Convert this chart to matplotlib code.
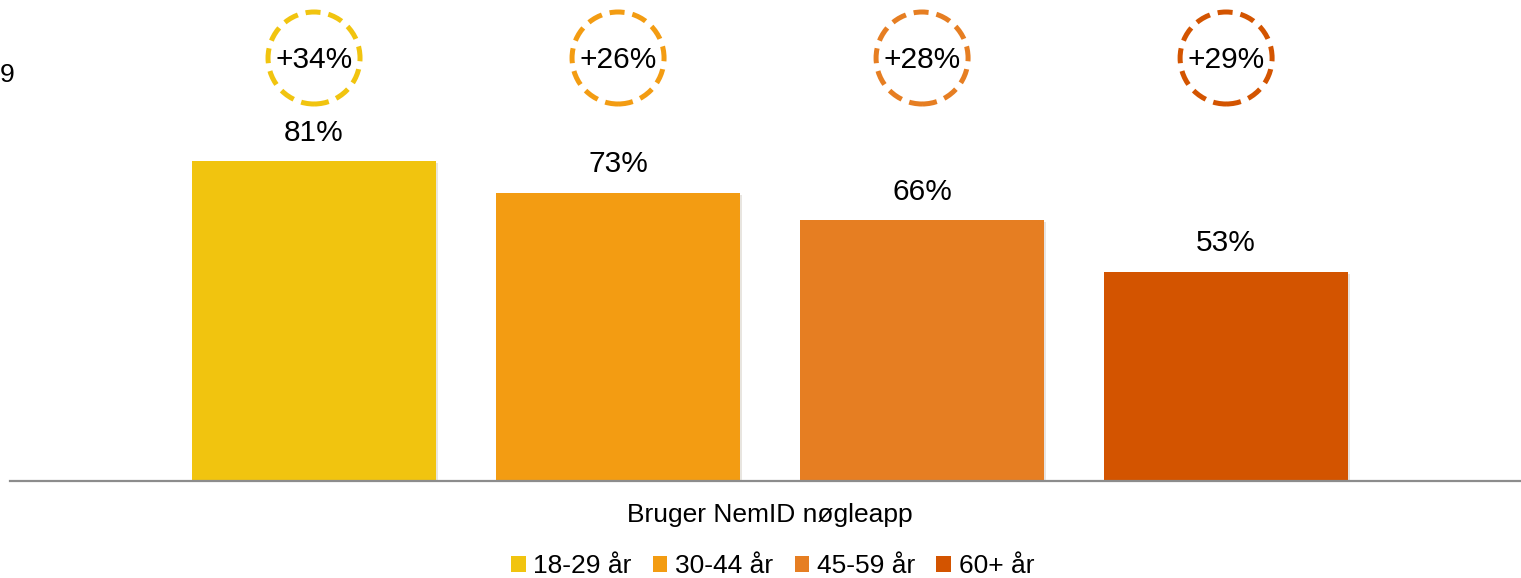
import matplotlib
matplotlib.use("Agg")
import matplotlib.pyplot as plt
from matplotlib.patches import Ellipse, Patch
import matplotlib.patheffects as pe

plt.rcParams['font.family'] = ['Liberation Sans', 'DejaVu Sans']

# data
groups = ['18-29 år', '30-44 år', '45-59 år', '60+ år']
values = [81, 73, 66, 53]
growth = ['+34%', '+26%', '+28%', '+29%']
category = 'Bruger NemID nøgleapp'
colors = ['#F1C40F', '#F39C12', '#E67E22', '#D35400']

W, H = 1521, 578
fig = plt.figure(figsize=(W / 100, H / 100), dpi=100)
ax = fig.add_axes([10 / W, (H - 481) / H, 1511 / W, 481 / H])

x = list(range(len(values)))
bars = ax.bar(x, values, width=0.8, color=colors, zorder=2)
for b in bars:
    b.set_path_effects([pe.SimplePatchShadow(offset=(1.5, -1.5), alpha=0.12), pe.Normal()])

ax.set_xlim(-1.0, 3.97)
ax.set_ylim(0, 481 / 3.95)

for xi, v in zip(x, values):
    ax.text(xi, v + 3.6, f'{v}%', ha='center', va='bottom', fontsize=21.5)

# dashed circles with growth figures
px_x = 1511 / (ax.get_xlim()[1] - ax.get_xlim()[0])
px_y = 481 / (ax.get_ylim()[1] - ax.get_ylim()[0])
r_px = 46
cy = (481 - 58) / px_y
for xi, g, c in zip(x, growth, colors):
    e = Ellipse((xi, cy), 2 * r_px / px_x, 2 * r_px / px_y, fill=False,
                edgecolor=c, linewidth=3.6, linestyle=(0, (3.0, 1.6)), clip_on=False)
    ax.add_patch(e)
    ax.text(xi, cy - 0.4, g, ha='center', va='center', fontsize=21.5)

for s in ['top', 'right', 'left']:
    ax.spines[s].set_visible(False)
ax.spines['bottom'].set_color('#8c8c8c')
ax.spines['bottom'].set_linewidth(1.6)
ax.set_yticks([])
ax.set_xticks([1.5])
ax.set_xticklabels([category], fontsize=19)
ax.tick_params(axis='x', length=0, pad=16)

handles = [Patch(facecolor=c, label=g) for g, c in zip(groups, colors)]
fig.legend(handles=handles, loc='center', bbox_to_anchor=(0.508, 0.02), ncol=4,
           frameon=False, fontsize=19, handlelength=0.55, handleheight=0.55,
           handletextpad=0.3, columnspacing=0.8)

fig.text(0, 1 - 75 / H, '9', fontsize=19, va='center', ha='left')

fig.savefig('out.png', dpi=100)
